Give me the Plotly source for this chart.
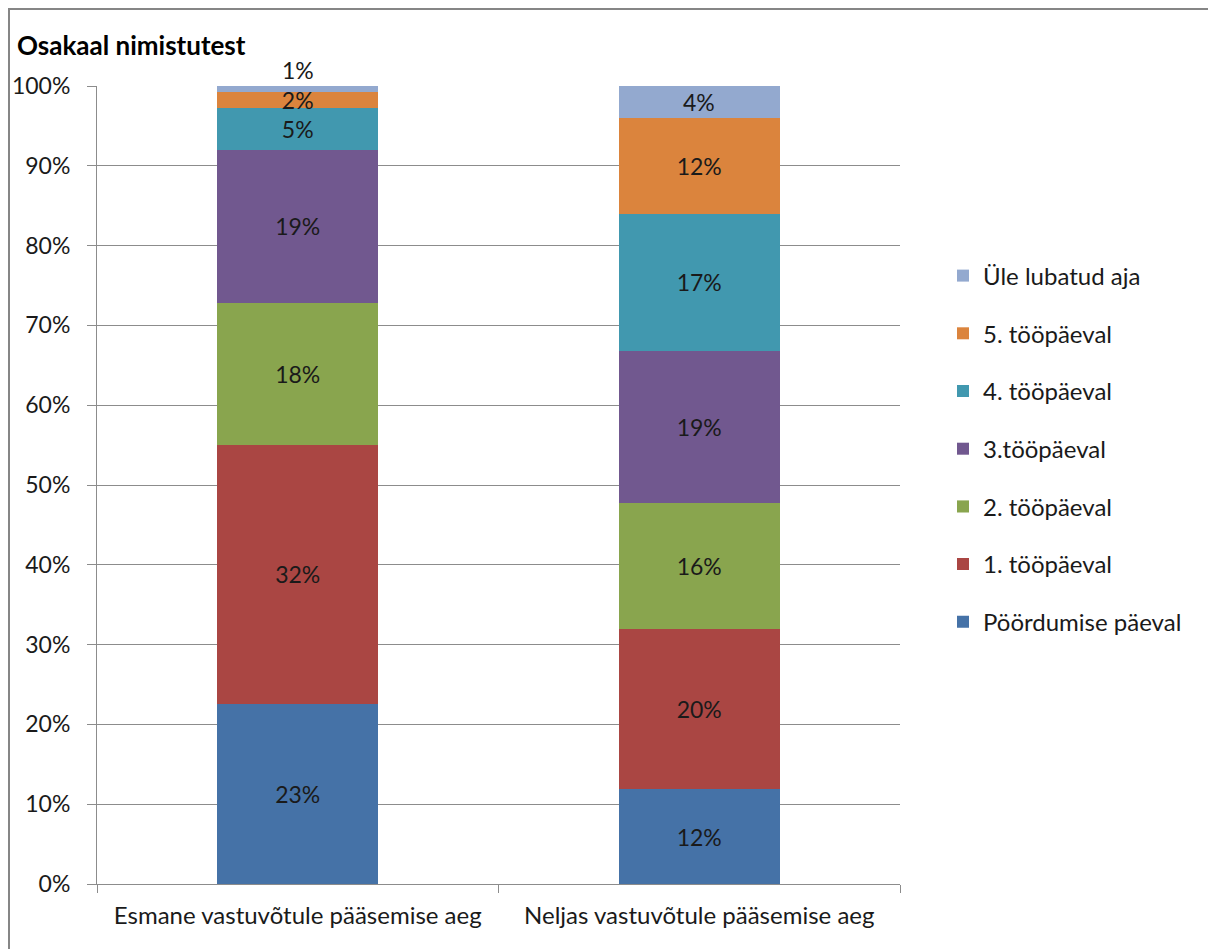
import plotly.graph_objects as go

categories = ["Esmane vastuvõtule pääsemise aeg", "Neljas vastuvõtule pääsemise aeg"]

series_names = [
    "Pöördumise päeval",
    "1. tööpäeval",
    "2. tööpäeval",
    "3.tööpäeval",
    "4. tööpäeval",
    "5. tööpäeval",
    "Üle lubatud aja",
]

# share of list (percent) for each series, first category then second
poordumise = [22.6, 11.9]
paev1 = [32.4, 20.0]
paev2 = [17.8, 15.8]
paev3 = [19.2, 19.1]
paev4 = [5.2, 17.2]
paev5 = [2.0, 12.0]
ule = [0.8, 4.0]

series_values = [poordumise, paev1, paev2, paev3, paev4, paev5, ule]

colors = ["#4572A7", "#AA4643", "#89A54E", "#71588F", "#4198AF", "#DB843D", "#93A9CF"]

y_ticks = [0, 10, 20, 30, 40, 50, 60, 70, 80, 90, 100]
y_tick_labels = [f"{v}%" for v in y_ticks]

FONT = "Lato"
TXT = "#1a1a1a"
GRID = "#8c8c8c"

W, H = 1208, 949
L, R, T, B = 97, 308, 86, 65
pw, ph = W - L - R, H - T - B


def px_x(x):
    return (x - L) / pw


def px_y(y):
    return 1 - (y - T) / ph


def pct(v):
    return f"{round(v):.0f}%"


n = len(series_names)
fig = go.Figure()
for i, (name, vals, col) in enumerate(zip(series_names, series_values, colors)):
    top = i == n - 1
    fig.add_trace(go.Bar(
        x=categories,
        y=vals,
        name=name,
        legendgroup=name,
        legendrank=n - i,
        marker=dict(color=col, line=dict(width=0)),
        text=None if top else [pct(v) for v in vals],
        textposition="none" if top else "inside",
        insidetextanchor="middle",
        constraintext="none",
        cliponaxis=False,
        textfont=dict(family=FONT, size=23, color=TXT),
        hoverinfo="skip",
    ))

# labels of the topmost segment: inside when there is room, above the stack otherwise
annotations = []
for c, cat in enumerate(categories):
    base = sum(s[c] for s in series_values[:-1])
    v = ule[c]
    if v < 2:
        annotations.append(dict(
            x=cat, y=base + v, xref="x", yref="y", text=pct(v),
            yanchor="bottom", showarrow=False, yshift=0,
            font=dict(family=FONT, size=23, color=TXT),
        ))
    else:
        annotations.append(dict(
            x=cat, y=base + v / 2, xref="x", yref="y", text=pct(v),
            yanchor="middle", showarrow=False,
            font=dict(family=FONT, size=23, color=TXT),
        ))

annotations.append(dict(
    text="<b>Osakaal nimistutest</b>",
    xref="paper", yref="paper",
    x=px_x(15), y=px_y(45),
    xanchor="left", yanchor="middle",
    showarrow=False,
    font=dict(family=FONT, size=26, color="#000000"),
))

fig.update_layout(
    width=W,
    height=H,
    margin=dict(l=L, r=R, t=T, b=B),
    barmode="stack",
    bargap=0.6,
    paper_bgcolor="white",
    plot_bgcolor="white",
    font=dict(family=FONT, size=23, color=TXT),
    legend=dict(
        x=px_x(943),
        xanchor="left",
        y=px_y(449),
        yanchor="middle",
        traceorder="grouped",
        tracegroupgap=23.5,
        font=dict(family=FONT, size=24, color=TXT),
        bgcolor="rgba(0,0,0,0)",
    ),
    xaxis=dict(
        showline=True,
        linecolor=GRID,
        linewidth=1,
        ticks="outside",
        tickson="boundaries",
        ticklen=8,
        tickcolor=GRID,
        showgrid=False,
        ticklabelstandoff=10,
        tickfont=dict(family=FONT, size=24, color=TXT),
    ),
    yaxis=dict(
        range=[0, 100],
        tickvals=y_ticks,
        ticktext=y_tick_labels,
        showline=True,
        linecolor=GRID,
        linewidth=1,
        ticks="outside",
        ticklen=9,
        tickcolor=GRID,
        showgrid=True,
        gridcolor=GRID,
        gridwidth=1,
        zeroline=False,
        ticklabelstandoff=12,
        tickfont=dict(family=FONT, size=23, color=TXT),
    ),
    annotations=annotations,
    shapes=[
        dict(
            type="rect",
            xref="paper", yref="paper",
            x0=px_x(9), x1=px_x(1220),
            y0=px_y(960), y1=px_y(9),
            line=dict(color="#868686", width=2),
            fillcolor="rgba(0,0,0,0)",
        )
    ],
)

fig.write_html("out.html")
